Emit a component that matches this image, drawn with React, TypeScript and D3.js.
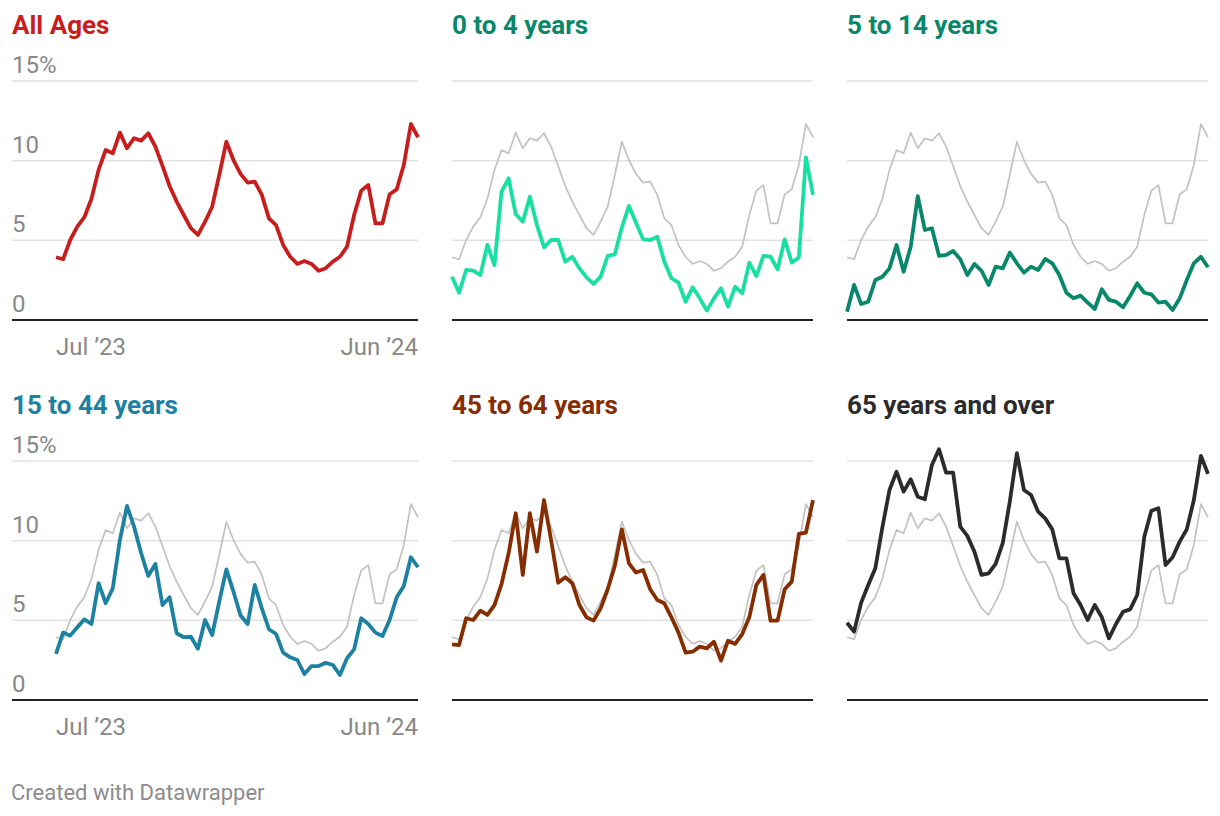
import React, {useEffect, useRef} from 'react';
import * as d3 from 'd3';

// weekly share (%) by age group
const startDate = new Date(2023, 6, 1);
const weekCount = 52;

const allAges = [3.94, 3.81, 5.02, 5.86, 6.45, 7.61, 9.42, 10.67, 10.46, 11.76, 10.78, 11.41, 11.26, 11.72, 10.88, 9.67, 8.41, 7.43, 6.59, 5.76, 5.34, 6.17, 7.11, 9.1, 11.19, 10.04, 9.17, 8.62, 8.68, 7.85, 6.38, 5.96, 4.71, 3.97, 3.52, 3.7, 3.52, 3.09, 3.25, 3.66, 3.97, 4.6, 6.59, 8.12, 8.47, 6.07, 6.07, 7.89, 8.2, 9.73, 12.3, 11.47];
const age0to4 = [2.72, 1.71, 3.14, 3.1, 2.82, 4.71, 3.45, 8.05, 8.89, 6.65, 6.17, 7.74, 5.96, 4.56, 5.02, 5.02, 3.66, 3.97, 3.24, 2.68, 2.26, 2.72, 4.02, 4.12, 5.82, 7.16, 6.1, 5.06, 5.02, 5.23, 3.66, 2.62, 2.34, 1.15, 2.05, 1.36, 0.59, 1.36, 1.99, 0.84, 2.09, 1.67, 3.6, 2.76, 4.02, 3.97, 3.18, 5.06, 3.6, 3.94, 10.21, 7.85];
const age5to14 = [0.52, 2.2, 1.0, 1.15, 2.51, 2.72, 3.24, 4.71, 3.03, 4.6, 7.78, 5.65, 5.76, 4.02, 4.08, 4.33, 3.81, 2.82, 3.52, 3.09, 2.2, 3.35, 3.24, 4.23, 3.56, 2.97, 3.35, 3.14, 3.83, 3.56, 2.82, 1.71, 1.36, 1.53, 1.09, 0.69, 1.93, 1.26, 1.15, 0.8, 1.51, 2.3, 1.71, 1.61, 1.09, 1.15, 0.63, 1.36, 2.51, 3.56, 3.97, 3.31];
const age15to44 = [2.89, 4.23, 4.04, 4.56, 5.06, 4.77, 7.33, 6.07, 7.01, 10.04, 12.18, 10.88, 9.21, 7.78, 8.54, 5.96, 6.45, 4.19, 3.94, 3.97, 3.22, 5.02, 4.08, 6.17, 8.2, 6.8, 5.3, 4.77, 7.22, 5.75, 4.44, 4.14, 2.97, 2.68, 2.51, 1.63, 2.13, 2.13, 2.34, 2.2, 1.57, 2.62, 3.18, 5.13, 4.77, 4.23, 4.02, 5.02, 6.45, 7.16, 8.96, 8.33];
const age45to64 = [3.49, 3.45, 5.13, 5.02, 5.61, 5.34, 5.96, 7.28, 9.21, 11.72, 7.85, 11.72, 9.31, 12.55, 10.04, 7.36, 7.7, 7.33, 5.96, 5.19, 4.98, 5.75, 6.95, 8.41, 10.71, 8.58, 8.0, 8.16, 6.95, 6.28, 6.07, 5.19, 4.23, 2.97, 3.03, 3.35, 3.24, 3.66, 2.47, 3.72, 3.52, 4.14, 5.19, 7.22, 7.85, 4.98, 4.98, 6.95, 7.43, 10.42, 10.5, 12.55];
const age65plus = [4.85, 4.29, 6.11, 7.22, 8.27, 10.84, 13.18, 14.33, 13.08, 13.85, 12.76, 12.6, 14.75, 15.74, 14.27, 14.27, 10.88, 10.3, 9.31, 7.85, 7.95, 8.54, 9.84, 12.45, 15.49, 13.18, 12.87, 11.82, 11.4, 10.71, 8.89, 8.89, 6.7, 5.96, 5.02, 5.96, 5.19, 3.87, 4.77, 5.54, 5.69, 6.59, 10.25, 11.88, 12.03, 8.47, 8.96, 9.94, 10.71, 12.55, 15.32, 14.19];

const panelTitles = ['All Ages', '0 to 4 years', '5 to 14 years', '15 to 44 years', '45 to 64 years', '65 years and over'];
const panelSeries = [allAges, age0to4, age5to14, age15to44, age45to64, age65plus];
const lineColors = ['#c71e1d', '#19dfa2', '#09876b', '#1d81a2', '#862d01', '#2b2b2b'];
const titleColors = ['#c71e1d', '#0a876a', '#0a876a', '#1d81a2', '#862d01', '#2b2b2b'];
const yTicks = [0, 5, 10, 15];
const yTickLabels = ['0', '5', '10', '15%'];
const xTickLabels = ['Jul ’23', 'Jun ’24'];

const W = 1220;
const H = 816;
const colLeft = [12, 452, 847];
const colRight = [418, 813, 1208];
const rowZero = [320, 700];
const rowTop = [81, 461];
const rowTitle = [34, 414];

export default function App() {
  const ref = useRef<SVGSVGElement>(null);

  useEffect(() => {
    const svg = d3.select(ref.current);
    svg.selectAll('*').remove();

    const dates = d3.range(weekCount).map(i => d3.timeWeek.offset(startDate, i));

    panelSeries.forEach((values, p) => {
      const col = p % 3;
      const row = Math.floor(p / 3);
      // only the first column carries axis labels
      const plotLeft = col === 0 ? 56 : colLeft[col];

      const x = d3.scaleTime()
        .domain([dates[0], dates[dates.length - 1]])
        .range([plotLeft, colRight[col]]);
      const y = d3.scaleLinear()
        .domain([0, 15])
        .range([rowZero[row], rowTop[row]]);

      const g = svg.append('g');

      // gridlines
      g.selectAll('line.grid')
        .data(yTicks.filter(t => t > 0))
        .enter()
        .append('line')
        .attr('x1', colLeft[col])
        .attr('x2', colRight[col])
        .attr('y1', d => y(d))
        .attr('y2', d => y(d))
        .attr('stroke', '#e2e2e2')
        .attr('stroke-width', 1.5);

      if (col === 0) {
        g.selectAll('text.ytick')
          .data(yTicks)
          .enter()
          .append('text')
          .attr('x', colLeft[col])
          .attr('y', d => y(d) - 8)
          .attr('fill', '#888')
          .style('font-size', '24px')
          .text((d, i) => yTickLabels[i]);

        g.append('text')
          .attr('x', x(dates[0]))
          .attr('y', rowZero[row] + 35)
          .attr('fill', '#888')
          .style('font-size', '24px')
          .attr('text-anchor', 'start')
          .text(xTickLabels[0]);
        g.append('text')
          .attr('x', x(dates[dates.length - 1]))
          .attr('y', rowZero[row] + 35)
          .attr('fill', '#888')
          .style('font-size', '24px')
          .attr('text-anchor', 'end')
          .text(xTickLabels[1]);
      }

      const line = d3.line<number>()
        .x((d, i) => x(dates[i]))
        .y(d => y(d));

      // all ages as reference in every other panel
      if (p > 0) {
        g.append('path')
          .attr('d', line(allAges))
          .attr('fill', 'none')
          .attr('stroke', '#c2c2c2')
          .attr('stroke-width', 1.7)
          .attr('stroke-linejoin', 'round');
      }

      g.append('path')
        .attr('d', line(values))
        .attr('fill', 'none')
        .attr('stroke', lineColors[p])
        .attr('stroke-width', 3.8)
        .attr('stroke-linejoin', 'round');

      // zero baseline
      g.append('line')
        .attr('x1', colLeft[col])
        .attr('x2', colRight[col])
        .attr('y1', y(0))
        .attr('y2', y(0))
        .attr('stroke', '#222')
        .attr('stroke-width', 2);

      g.append('text')
        .attr('x', colLeft[col])
        .attr('y', rowTitle[row])
        .attr('fill', titleColors[p])
        .style('font-size', '26px')
        .style('font-weight', 700)
        .text(panelTitles[p]);
    });

    svg.append('text')
      .attr('x', 11)
      .attr('y', 800)
      .attr('fill', '#8c8c8c')
      .style('font-size', '22px')
      .text('Created with Datawrapper');
  }, []);

  return (
    <svg
      ref={ref}
      width={W}
      height={H}
      style={{position: 'absolute', left: 0, top: 0, background: '#fff', fontFamily: 'Roboto, sans-serif'}}
    />
  );
}
